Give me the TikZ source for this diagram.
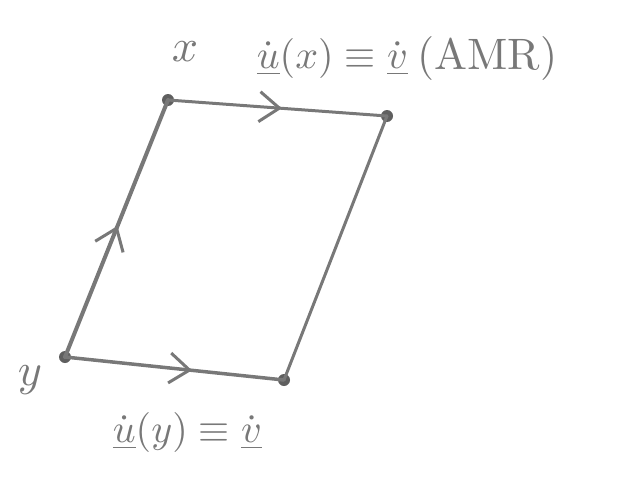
\documentclass[tikz,border=0pt]{standalone}
\usetikzlibrary{arrows.meta,decorations.markings}
\definecolor{pencil}{RGB}{120,120,120}
\definecolor{pencildark}{RGB}{95,95,95}
\tikzset{
  edge/.style={draw=pencil, line width=3pt, line cap=round},
  midarrow/.style={postaction={decorate}, decoration={markings, mark=at position #1 with {\arrow[pencil, line width=3pt]{Straight Barb[length=20pt,width=30pt]}}}},
  vertexdot/.style={circle, fill=pencildark, inner sep=0pt, minimum size=12pt},
  lbl/.style={text=pencil, inner sep=0pt, scale=4}
}
\begin{document}
\begin{tikzpicture}[x=1pt,y=-1pt]
\useasboundingbox (0,0) rectangle (629,503);
\node[vertexdot] (x) at (168,100) {};
\node[vertexdot] (tr) at (387,116) {};
\node[vertexdot] (y) at (65,357) {};
\node[vertexdot] (br) at (284,380) {};
\draw[edge, midarrow=0.52] (x.center) -- (tr.center);
\draw[edge] (tr.center) -- (br.center);
\draw[edge, line width=4pt, midarrow=0.51] (y.center) -- (x.center);
\draw[edge, line width=3.5pt, midarrow=0.58] (y.center) -- (br.center);
\node[lbl, scale=1.15] (xl) at (185,52) {$x$};
\node[lbl, scale=1.15] (yl) at (30,380) {$y$};
\node[lbl, anchor=west] (ux) at (256,58) {$\dot{\underline{u}}(x)\equiv\dot{\underline{v}}$};
\node[lbl, anchor=west, scale=1.1] (amr) at ([xshift=8pt]ux.east) {(AMR)};
\node[lbl, anchor=west] (uy) at (112,432) {$\dot{\underline{u}}(y)\equiv\dot{\underline{v}}$};
\end{tikzpicture}
\end{document}
